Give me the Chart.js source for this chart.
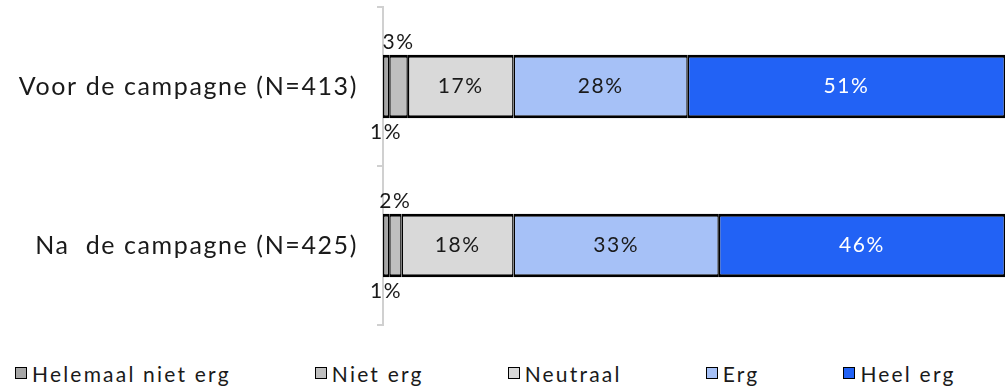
<!DOCTYPE html>
<html>
<head>
<meta charset="utf-8">
<script src="https://cdn.jsdelivr.net/npm/chart.js@4/dist/chart.umd.min.js"></script>
<style>
  body { margin: 0; background: #fff; font-family: Lato, sans-serif; }
  #wrap { width: 1005px; height: 390px; position: relative; }
  #plot { position: absolute; left: 0; top: 0; width: 1005px; height: 330px; }
  #legend {
    position: absolute; left: 0; top: 360px; width: 1005px; height: 26px;
    box-sizing: border-box; padding-left: 15px;
    display: flex; justify-content: flex-start; align-items: center; gap: 84px;
    font-size: 21px; letter-spacing: 2.2px; color: #1a1a1a;
  }
  #legend span { display: flex; align-items: center; white-space: pre; }
  #legend i {
    display: inline-block; width: 10px; height: 10px; margin-right: 5px;
    border: 1.5px solid #000;
  }
</style>
</head>
<body>
<div id="wrap">
  <div id="plot"><canvas id="campaignChart"></canvas></div>
  <div id="legend"></div>
</div>
<script>
const categories = ["Voor de campagne (N=413)", "Na  de campagne (N=425)"];
const seriesNames = ["Helemaal niet erg", "Niet erg", "Neutraal", "Erg", "Heel erg"];
const helemaalNietErg = [1, 1];
const nietErg = [3, 2];
const neutraal = [17, 18];
const erg = [28, 33];
const heelErg = [51, 46];

const seriesColors = ["#a6a6a6", "#bfbfbf", "#d9d9d9", "#a6c1f7", "#2262f5"];
const seriesValues = [helemaalNietErg, nietErg, neutraal, erg, heelErg];

// legend row under the plot
const legendBox = document.getElementById("legend");
seriesNames.forEach((name, i) => {
  const item = document.createElement("span");
  const swatch = document.createElement("i");
  swatch.style.background = seriesColors[i];
  item.appendChild(swatch);
  item.appendChild(document.createTextNode(name));
  legendBox.appendChild(item);
});

// wider letter spacing for the category labels
const spacedText = {
  id: "spacedText",
  beforeDraw(chart) {
    chart.ctx.letterSpacing = "1.6px";
  },
  afterDraw(chart) {
    chart.ctx.letterSpacing = "0px";
  }
};

// percentages in the bars; the two smallest segments get theirs below / above the bar
const valueLabels = {
  id: "valueLabels",
  afterDatasetsDraw(chart) {
    const ctx = chart.ctx;
    ctx.save();
    ctx.font = "21px Lato";
    ctx.letterSpacing = "1.6px";
    ctx.textAlign = "center";
    ctx.textBaseline = "middle";
    chart.data.datasets.forEach((ds, i) => {
      chart.getDatasetMeta(i).data.forEach((bar, j) => {
        const top = bar.y - bar.height / 2;
        const bottom = bar.y + bar.height / 2;
        let x = (bar.x + bar.base) / 2;
        let y = bar.y;
        if (i === 0) y = bottom + 14;
        else if (i === 1) y = top - 12;
        ctx.fillStyle = i === 4 ? "#ffffff" : "#1a1a1a";
        ctx.fillText(ds.data[j] + "%", x, y);
      });
    });
    ctx.restore();
  }
};

Chart.defaults.font.family = "Lato";
Chart.defaults.color = "#1a1a1a";

new Chart(document.getElementById("campaignChart"), {
  type: "bar",
  data: {
    labels: categories,
    datasets: seriesNames.map((name, i) => ({
      label: name,
      data: seriesValues[i],
      backgroundColor: seriesColors[i],
      borderColor: "#000000",
      borderWidth: { top: 3, bottom: 3, left: 1.5, right: 1.5 },
      borderSkipped: false,
      categoryPercentage: 1,
      barPercentage: 0.4,
    })),
  },
  options: {
    indexAxis: "y",
    responsive: true,
    maintainAspectRatio: false,
    animation: false,
    layout: {
      padding: { top: 7, right: 0, bottom: 5, left: 0 },
    },
    plugins: {
      legend: { display: false },
      tooltip: { enabled: false },
    },
    scales: {
      x: {
        stacked: true,
        display: false,
        min: 0,
        max: 100,
      },
      y: {
        stacked: true,
        afterFit(scale) {
          scale.width = 383;
          scale.paddingTop = 0;
          scale.paddingBottom = 0;
        },
        border: { display: true, color: "#d0d0d0", width: 2 },
        grid: {
          drawOnChartArea: false,
          drawTicks: true,
          tickLength: 6,
          color: "#d0d0d0",
          lineWidth: 2,
        },
        ticks: {
          padding: 19,
          color: "#1a1a1a",
          font: { size: 25 },
        },
      },
    },
  },
  plugins: [spacedText, valueLabels],
});
</script>
</body>
</html>
